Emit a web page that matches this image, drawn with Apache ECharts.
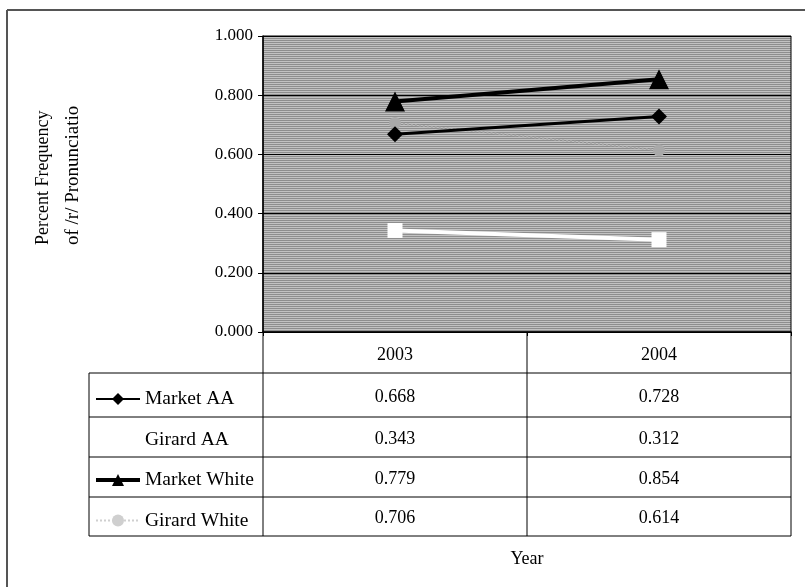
<!DOCTYPE html>
<html><head><meta charset="utf-8">
<script src="https://cdn.jsdelivr.net/npm/echarts@6/dist/echarts.min.js"></script>
<style>html,body{margin:0;padding:0;background:#fff}#c{width:805px;height:587px}</style>
</head><body><div id="c"></div>
<script>
const categories = ['2003', '2004'];
const marketAA = [0.668, 0.728];
const girardAA = [0.343, 0.312];
const marketWhite = [0.779, 0.854];
const girardWhite = [0.706, 0.614];
const seriesNames = ['Market AA', 'Girard AA', 'Market White', 'Girard White'];
const tableRows = [marketAA, girardAA, marketWhite, girardWhite];
const yTitle1 = 'Percent Frequency';
const yTitle2 = 'of /r/ Pronunciatio';
const xTitle = 'Year';

const FONT = '"Liberation Serif", "Times New Roman", serif';
const chart = echarts.init(document.getElementById('c'), null, {renderer: 'canvas'});

// background texture (horizontal hatch)
const pat = document.createElement('canvas');
pat.width = 8; pat.height = 2;
const pc = pat.getContext('2d');
pc.fillStyle = '#8e8e8e'; pc.fillRect(0, 0, 8, 1);
pc.fillStyle = '#c2c2c2'; pc.fillRect(0, 1, 8, 1);

const G = {left: 263, top: 36, right: 791, bottom: 332};

chart.setOption({
  animation: false,
  backgroundColor: '#fff',
  grid: {left: G.left, top: G.top, width: G.right - G.left, height: G.bottom - G.top,
    show: true, backgroundColor: {image: pat, repeat: 'repeat'}, borderColor: '#000', borderWidth: 1},
  legend: {
    data: [
      {name: seriesNames[0], lineStyle: {width: 2}},
      {name: seriesNames[1]},
      {name: seriesNames[2], lineStyle: {width: 4}},
      {name: seriesNames[3], itemStyle: {color: '#cfcfcf'}, lineStyle: {color: '#cfcfcf'}}
    ],
    orient: 'vertical', left: 89, top: 384,
    itemWidth: 44, itemHeight: 15, itemGap: 20.5, selectedMode: false,
    textStyle: {fontFamily: FONT, fontSize: 19.5, color: '#000', lineHeight: 20}
  },
  xAxis: {
    type: 'category', data: categories, boundaryGap: true,
    axisLine: {lineStyle: {color: '#000', width: 1.5}},
    axisTick: {show: true, length: 4, lineStyle: {color: '#000'}},
    axisLabel: {margin: 14, fontFamily: FONT, fontSize: 18, color: '#000'},
    splitLine: {show: false}
  },
  yAxis: {
    type: 'value', min: 0, max: 1, interval: 0.2,
    axisLine: {show: true, lineStyle: {color: '#000', width: 1.5}},
    axisTick: {show: true, length: 5, lineStyle: {color: '#000'}},
    axisLabel: {margin: 10, fontFamily: FONT, fontSize: 17, color: '#000', formatter: v => v.toFixed(3)},
    splitLine: {show: true, lineStyle: {color: '#000', width: 1}}
  },
  series: [
    {name: seriesNames[0], type: 'line', data: marketAA, color: '#000', symbol: 'diamond', symbolSize: 16,
      lineStyle: {width: 3, color: '#000'}, itemStyle: {color: '#000'}, z: 4},
    {name: seriesNames[1], type: 'line', data: girardAA, color: '#fff', symbol: 'rect', symbolSize: 15,
      lineStyle: {width: 4, color: '#fff'}, itemStyle: {color: '#fff'}, z: 3},
    {name: seriesNames[2], type: 'line', data: marketWhite, color: '#000', symbol: 'triangle', symbolSize: 20,
      lineStyle: {width: 4, color: '#000'}, itemStyle: {color: '#000'}, z: 5},
    {name: seriesNames[3], type: 'line', data: girardWhite, color: '#a9a9a9', symbol: 'circle', symbolSize: 12,
      lineStyle: {width: 2, type: 'dotted', color: '#a9a9a9'}, itemStyle: {color: '#a9a9a9'}, z: 2}
  ]
});

// table and annotations
const rowLines = [373, 417, 457, 497, 536];
const rowCenters = [];
for (let i = 0; i < rowLines.length - 1; i++) rowCenters.push((rowLines[i] + rowLines[i + 1]) / 2);
const colX = categories.map(c => chart.convertToPixel({xAxisIndex: 0}, c));
const midX = (colX[0] + colX[1]) / 2;
const TL = 89;
const ls = {stroke: '#000', lineWidth: 1};
const g = [];
// outer frame
g.push({type: 'line', shape: {x1: 7, y1: 10, x2: 805, y2: 10}, style: {stroke: '#555', lineWidth: 2}});
g.push({type: 'line', shape: {x1: 7, y1: 10, x2: 7, y2: 587}, style: {stroke: '#555', lineWidth: 2}});
// table verticals
[G.left, midX, G.right].forEach(x => g.push({type: 'line', shape: {x1: x, y1: G.bottom, x2: x, y2: rowLines[rowLines.length - 1]}, style: ls}));
g.push({type: 'line', shape: {x1: TL, y1: rowLines[0], x2: TL, y2: rowLines[rowLines.length - 1]}, style: ls});
// table horizontals
rowLines.forEach(y => g.push({type: 'line', shape: {x1: TL, y1: y, x2: G.right, y2: y}, style: ls}));
// values
tableRows.forEach((row, r) => row.forEach((v, c) => {
  g.push({type: 'text', x: colX[c], y: rowCenters[r] + 2, style: {text: v.toFixed(3), font: '18px ' + FONT, fill: '#000', align: 'center', verticalAlign: 'middle'}});
}));
// titles
g.push({type: 'text', x: midX, y: 559, style: {text: xTitle, font: '18px ' + FONT, fill: '#000', align: 'center', verticalAlign: 'middle'}});
g.push({type: 'text', x: 43, y: 245, rotation: Math.PI / 2, style: {text: yTitle1, font: '18px ' + FONT, fill: '#000', align: 'left', verticalAlign: 'middle'}});
g.push({type: 'text', x: 73, y: 245, rotation: Math.PI / 2, style: {text: yTitle2, font: '19px ' + FONT, fill: '#000', align: 'left', verticalAlign: 'middle'}});
chart.setOption({graphic: g});
</script></body></html>
